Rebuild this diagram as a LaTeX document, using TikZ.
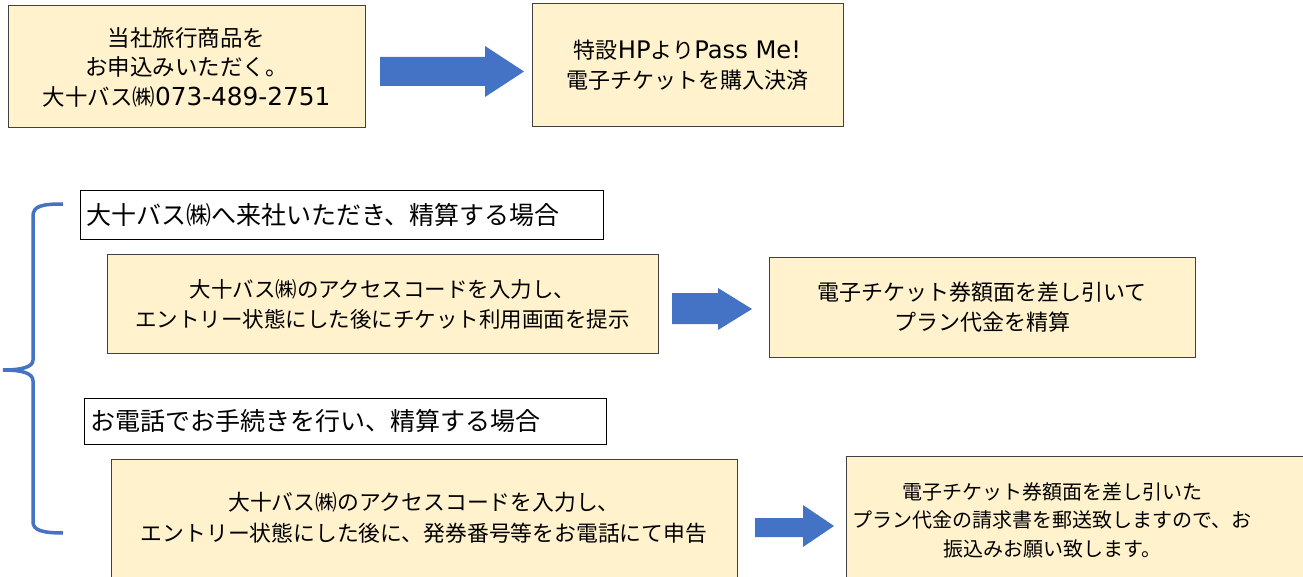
\documentclass[tikz,border=0pt]{standalone}
\usepackage{fontspec}
\setmainfont{Noto Sans CJK JP}
\newfontfamily\latfont{DejaVu Sans}[Scale=1.1]
\definecolor{boxfill}{HTML}{FFF2CC}
\definecolor{boxline}{HTML}{404040}
\definecolor{arrowblue}{HTML}{4472C4}
\begin{document}
\begin{tikzpicture}[x=1pt,y=-1pt,
  ybox/.style={draw=boxline, line width=1pt, fill=boxfill, inner sep=0pt, outer sep=0pt, align=center, font=\fontsize{21.5}{30}\selectfont},
  lbox/.style={draw=black, line width=0.8pt, fill=white, inner sep=0pt, inner xsep=6pt, outer sep=0pt, align=left, font=\fontsize{25}{30}\selectfont},
  barrow/.style={fill=arrowblue, draw=none}
]
\useasboundingbox (0,0) rectangle (1303,577);
% top row
\node[ybox, minimum width=357pt, minimum height=122pt, font=\fontsize{22.5}{29.5}\selectfont] (A) at (186.5,67) {当社旅行商品を\\お申込みいただく。\\大十バス㈱{\latfont 073-489-2751}};
\node[ybox, minimum width=311pt, minimum height=123pt, font=\fontsize{22}{30}\selectfont] (B) at (687.5,65.5) {特設{\latfont HP}より{\latfont Pass Me!}\\電子チケットを購入決済};
\fill[barrow] (380,57) -- (485,57) -- (485,46) -- (524,71.5) -- (485,97) -- (485,86) -- (380,86) -- cycle;

% brace
\draw[arrowblue, line width=3.5pt] (63,204) .. controls (42,204) and (33,206) .. (33,216) -- (33,360) .. controls (33,367) and (22,370) .. (3,370) .. controls (22,370) and (33,373) .. (33,381) -- (33,522) .. controls (33,530) and (42,533) .. (63,533);

% section 1
\node[lbox, text width=511pt, minimum height=49pt] (L1) at (341.5,214.5) {大十バス㈱へ来社いただき、精算する場合};
\node[ybox, minimum width=551pt, minimum height=98pt] (C) at (382.5,304) {大十バス㈱のアクセスコードを入力し、\\エントリー状態にした後にチケット利用画面を提示};
\node[ybox, minimum width=426pt, minimum height=99pt, font=\fontsize{22}{30}\selectfont] (D) at (982,307.5) {電子チケット券額面を差し引いて\\プラン代金を精算};
\fill[barrow] (672,293) -- (718,293) -- (718,288) -- (752,309) -- (718,330) -- (718,324) -- (672,324) -- cycle;

% section 2
\node[lbox, text width=510pt, minimum height=46pt] (L2) at (345,421) {お電話でお手続きを行い、精算する場合};
\node[ybox, minimum width=626pt, minimum height=124pt] (E) at (424,521) {};
\node[font=\fontsize{21.8}{31}\selectfont, align=center, inner sep=0pt] (Et) at (424,517.5) {大十バス㈱のアクセスコードを入力し、\\エントリー状態にした後に、発券番号等をお電話にて申告};
\node[ybox, minimum width=464pt, minimum height=126pt] (F) at (1078,519) {};
\node[font=\fontsize{20}{28.5}\selectfont, align=center, inner sep=0pt] (Ft) at (1052,520) {電子チケット券額面を差し引いた\\プラン代金の請求書を郵送致しますので、お\\振込みお願い致します。};
\fill[barrow] (755,518) -- (803,518) -- (803,505) -- (834,526) -- (803,547) -- (803,537) -- (755,537) -- cycle;
\end{tikzpicture}
\end{document}
